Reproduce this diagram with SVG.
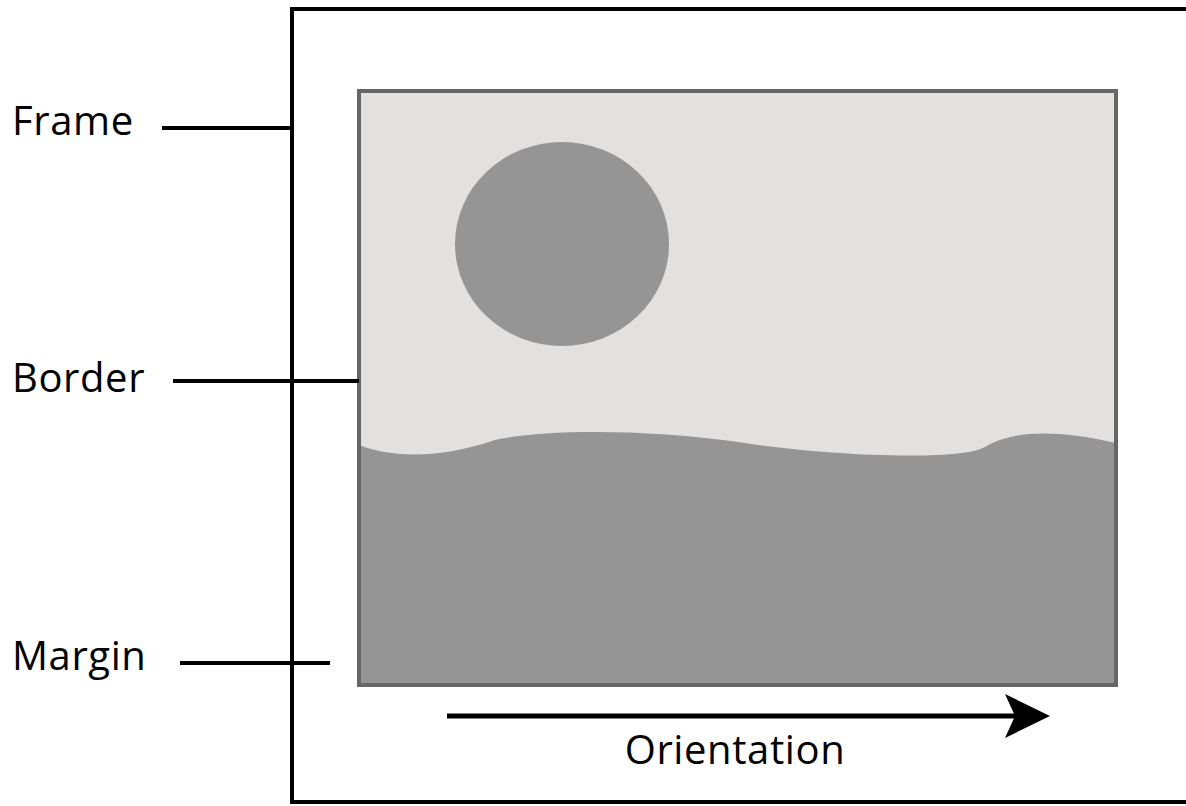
<svg xmlns="http://www.w3.org/2000/svg" width="1186" height="806" viewBox="0 0 1186 806">
  <style>
    .label { font-family: "Open Sans", "Noto Sans", "DejaVu Sans", sans-serif; font-size: 40px; letter-spacing: 0.6px; fill: #000; }
    .leader { stroke: #000; stroke-width: 4; fill: none; }
  </style>
  <defs>
    <marker id="arrowhead" markerUnits="userSpaceOnUse" markerWidth="48" markerHeight="46" refX="20" refY="22" orient="auto">
      <path d="M0,0 L45,22 L0,44 L10,22 Z" fill="#000"/>
    </marker>
  </defs>
  <rect width="1186" height="806" fill="#fff"/>

  <!-- outer frame -->
  <g id="frame">
    <rect x="292" y="9" width="960" height="793" fill="none" stroke="#000" stroke-width="4"/>
  </g>

  <!-- picture with border -->
  <g id="picture">
    <rect x="359" y="91" width="757" height="594" fill="#e3e0e0"/>
    <ellipse cx="562" cy="244" rx="107" ry="102" fill="#959595"/>
    <path d="M359,445 C385,455 430,462 495,440 C540,430 640,428 745,443 C820,455 960,462 985,447 C1010,432 1050,428 1116,443 L1116,685 L359,685 Z" fill="#959595"/>
    <rect x="359" y="91" width="757" height="594" fill="none" stroke="#666" stroke-width="4"/>
  </g>

  <!-- labels -->
  <g id="label-frame">
    <text class="label" x="12" y="135">Frame</text>
  </g>
  <g id="label-border">
    <text class="label" x="12" y="392">Border</text>
  </g>
  <g id="label-margin">
    <text class="label" x="12" y="670">Margin</text>
  </g>
  <g id="label-orientation">
    <text class="label" x="735" y="764" text-anchor="middle">Orientation</text>
  </g>

  <!-- connectors -->
  <g id="connectors">
    <line class="leader" x1="162" y1="128" x2="292" y2="128"/>
    <line class="leader" x1="173" y1="381" x2="359" y2="381"/>
    <line class="leader" x1="180" y1="663" x2="330" y2="663"/>
    <line x1="447" y1="716" x2="1025" y2="716" stroke="#000" stroke-width="5" marker-end="url(#arrowhead)"/>
  </g>
</svg>
